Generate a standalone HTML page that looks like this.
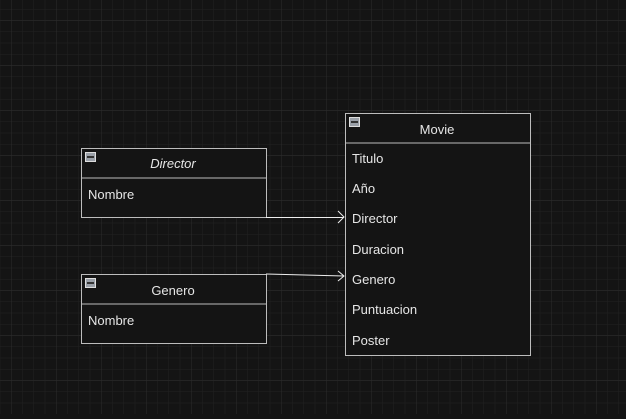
<!DOCTYPE html>
<html><head><style>
body{margin:0;width:626px;height:414px;overflow:hidden;background:#141414;}
</style></head><body>
<svg width="626" height="414" xmlns="http://www.w3.org/2000/svg" font-family="Liberation Sans, sans-serif" font-size="13">
<defs>
<pattern id="mi" width="11.25" height="11.25" patternUnits="userSpaceOnUse" x="11" y="9">
<path d="M0 0H11.25M0 0V11.25" stroke="#222" stroke-width="1" fill="none"/></pattern>
<pattern id="ma" width="45" height="45" patternUnits="userSpaceOnUse" x="11" y="20">
<path d="M0 0H45M0 0V45" stroke="#2c2c2c" stroke-width="1" fill="none"/></pattern>
</defs>
<rect width="626" height="414" fill="url(#mi)"/>
<rect width="626" height="414" fill="url(#ma)"/>
<g stroke="#bdbdbd" fill="#141414">
<rect x="81.5" y="148.5" width="185" height="69"/>
<line x1="81" y1="178" x2="266" y2="178"/>
<rect x="81.5" y="274.5" width="185" height="69"/>
<line x1="81" y1="304" x2="266" y2="304"/>
<rect x="345.5" y="113.5" width="185" height="242"/>
<line x1="345" y1="143" x2="530" y2="143"/>
</g>
<g fill="#9aa0a8" stroke="#ddd" stroke-width="1">
<rect x="85.5" y="152.5" width="10" height="9"/>
<rect x="85.5" y="278.5" width="10" height="9"/>
<rect x="349.5" y="117.5" width="10" height="9"/>
</g>
<g stroke="#333" stroke-width="2"><line x1="87" y1="157" x2="94" y2="157"/><line x1="87" y1="283" x2="94" y2="283"/><line x1="351" y1="122" x2="358" y2="122"/></g>
<g stroke="#eee" fill="none" stroke-width="1">
<path d="M266 217.5H344"/><path d="M338 211L344 217L338 223"/>
<path d="M266 274L344 276"/><path d="M338 271L344 276L338 281"/>
</g>
<g fill="#e6e6e6">
<text x="173" y="168" text-anchor="middle" font-style="italic">Director</text>
<text x="88" y="199">Nombre</text>
<text x="173" y="295" text-anchor="middle">Genero</text>
<text x="88" y="325">Nombre</text>
<text x="437" y="134" text-anchor="middle">Movie</text>
<text x="352" y="163">Titulo</text>
<text x="352" y="193">Año</text>
<text x="352" y="223">Director</text>
<text x="352" y="254">Duracion</text>
<text x="352" y="284">Genero</text>
<text x="352" y="314">Puntuacion</text>
<text x="352" y="345">Poster</text>
</g>
</svg>
</body></html>
